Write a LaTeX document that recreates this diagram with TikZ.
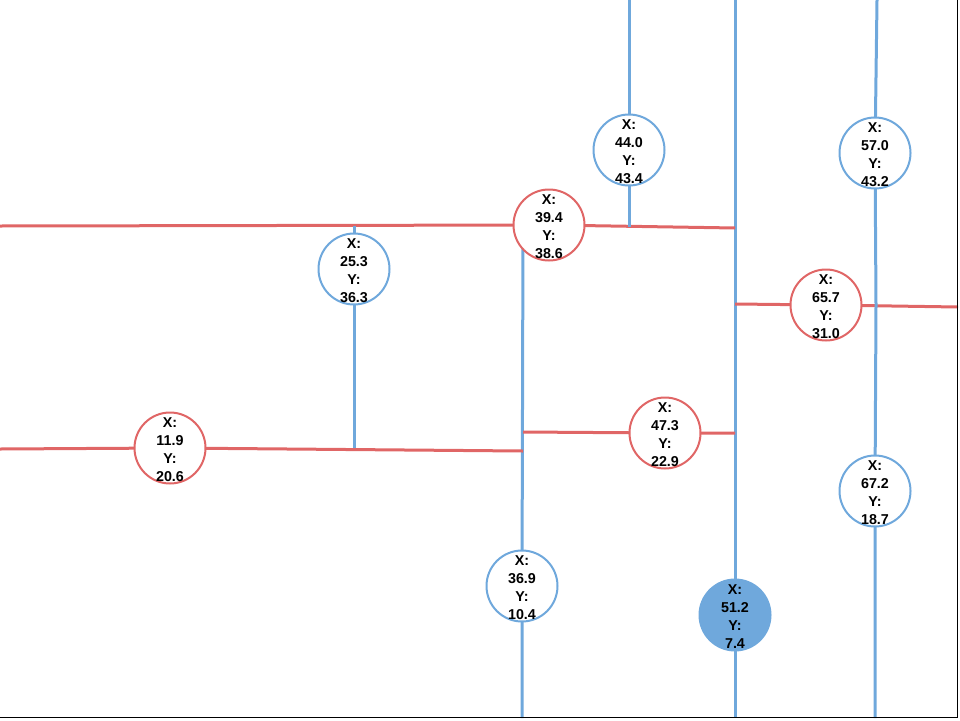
\documentclass[tikz,border=0pt]{standalone}
\usepackage{fontspec}
\setmainfont{Liberation Sans}
\definecolor{kdblue}{HTML}{6FA8DC}
\definecolor{kdred}{HTML}{E06666}
\pgfdeclarelayer{bg}
\pgfsetlayers{bg,main}
\tikzset{
  kdcirc/.style={circle, minimum size=71pt, inner sep=0pt, line width=2pt, fill=white},
  bluenode/.style={kdcirc, draw=kdblue},
  rednode/.style={kdcirc, draw=kdred},
  hitnode/.style={kdcirc, draw=kdblue, fill=kdblue},
  lbl/.style={align=center, inner sep=0pt, yshift=-1.5pt, font=\bfseries\fontsize{14.3}{18}\selectfont},
  bsplit/.style={draw=kdblue, line width=3pt},
  rsplit/.style={draw=kdred, line width=3pt},
  frame/.style={draw=black, line width=1.5pt}
}
\newcommand{\kdnode}[5]{%
  \node[#3] (#1) at #2 {};
  \node[lbl] (#1t) at (#1) {X:\\#4\\Y:\\#5};
}
\begin{document}
\begin{tikzpicture}[x=1pt,y=-1pt]
\useasboundingbox (0,0) rectangle (960,720);
% nodes
\kdnode{A}{(629,150)}{bluenode}{44.0}{43.4}
\kdnode{B}{(875,153)}{bluenode}{57.0}{43.2}
\kdnode{C}{(549,225)}{rednode}{39.4}{38.6}
\kdnode{D}{(354,269)}{bluenode}{25.3}{36.3}
\kdnode{E}{(826,305)}{rednode}{65.7}{31.0}
\kdnode{F}{(665,433)}{rednode}{47.3}{22.9}
\kdnode{G}{(170,448)}{rednode}{11.9}{20.6}
\kdnode{H}{(875,491)}{bluenode}{67.2}{18.7}
\kdnode{I}{(522,586)}{bluenode}{36.9}{10.4}
\kdnode{J}{(735,615)}{hitnode}{51.2}{7.4}
% free ends
\coordinate (jt) at (735,0);
\coordinate (jb) at (735,718);
\coordinate (cl) at (0,226);
\coordinate (cr) at (735,228);
\coordinate (at) at (629,0);
\coordinate (ab) at (629,227);
\coordinate (dt) at (354,226);
\coordinate (db) at (354,450);
\coordinate (it) at (523,227);
\coordinate (ib) at (522,718);
\coordinate (gl) at (0,449);
\coordinate (gr) at (523,451);
\coordinate (fl) at (523,432);
\coordinate (fr) at (735,433);
\coordinate (el) at (735,304);
\coordinate (er) at (958,307);
\coordinate (bt) at (877,0);
\coordinate (bb) at (876,305);
\coordinate (ht) at (876,305);
\coordinate (hb) at (875,718);
\begin{pgfonlayer}{bg}
\draw[bsplit] (jt) -- (J.center) -- (jb);
\draw[rsplit] (cl) -- (C.center) -- (cr);
\draw[bsplit] (at) -- (A.center) -- (ab);
\draw[bsplit] (dt) -- (D.center) -- (db);
\draw[bsplit] (it) -- (I.center) -- (ib);
\draw[rsplit] (gl) -- (G.center) -- (gr);
\draw[rsplit] (fl) -- (F.center) -- (fr);
\draw[rsplit] (el) -- (E.center) -- (er);
\draw[bsplit] (bt) -- (B.center) -- (bb);
\draw[bsplit] (ht) -- (H.center) -- (hb);
\coordinate (fr0) at (957.5,0);
\coordinate (fr1) at (957.5,717.5);
\coordinate (fr2) at (0,717.5);
\draw[frame] (fr0) -- (fr1) -- (fr2);
\end{pgfonlayer}
\end{tikzpicture}
\end{document}
